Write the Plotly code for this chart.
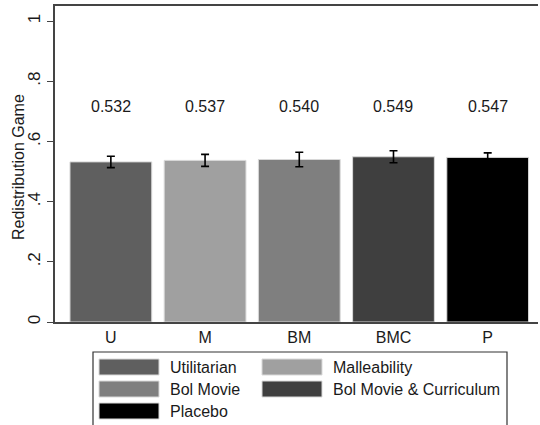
import plotly.graph_objects as go

categories = ["U", "M", "BM", "BMC", "P"]
values = [0.532, 0.537, 0.540, 0.549, 0.547]
ci_half = [0.019, 0.020, 0.024, 0.020, 0.015]
value_labels = ["0.532", "0.537", "0.540", "0.549", "0.547"]
legend_names = ["Utilitarian", "Malleability", "Bol Movie", "Bol Movie & Curriculum", "Placebo"]
colors = ["#5f5f5f", "#a0a0a0", "#7f7f7f", "#3f3f3f", "#000000"]
y_ticks = [0, 0.2, 0.4, 0.6, 0.8, 1.0]
y_tick_labels = ["0", ".2", ".4", ".6", ".8", "1"]
y_title = "Redistribution Game"
label_y = 0.717

W, H = 540, 425
ml, mr, mt, mb = 55, 2, 6, 103
pw, ph = W - ml - mr, H - mt - mb
FONT = "Liberation Sans, Arial"

fig = go.Figure()
fig.add_trace(go.Bar(
    x=list(range(len(categories))), y=values,
    marker=dict(color=colors, line=dict(color="#d9d9d9", width=1)),
    width=0.868,
    error_y=dict(type="data", array=ci_half, color="#000000", thickness=1.6, width=4),
    showlegend=False, hoverinfo="skip",
))

annotations = []
for i, lab in enumerate(value_labels):
    annotations.append(dict(x=i, y=label_y, xref="x", yref="y", text=lab, showarrow=False,
                            font=dict(size=16, color="#1a1a1a", family=FONT)))

def px_to_paper_x(px):
    return (px - ml) / pw

def px_to_paper_y(py):
    return (H - mb - py) / ph

# y-axis title
annotations.append(dict(xref="paper", yref="paper", x=px_to_paper_x(18), y=px_to_paper_y(167),
                        xanchor="center", yanchor="middle", text=y_title, textangle=-90,
                        showarrow=False, font=dict(size=16, color="#1a1a1a", family=FONT)))

shapes = []
shapes.append(dict(type="rect", xref="paper", yref="paper",
                   x0=px_to_paper_x(93), x1=px_to_paper_x(507),
                   y0=px_to_paper_y(352), y1=px_to_paper_y(426),
                   line=dict(color="#333333", width=1.2), fillcolor="rgba(0,0,0,0)"))
col_x = [99, 262]
row_y = [367, 389, 411]
for k, (name, c) in enumerate(zip(legend_names, colors)):
    r, ccol = divmod(k, 2)
    sx = col_x[ccol]
    cy = row_y[r]
    shapes.append(dict(type="rect", xref="paper", yref="paper",
                       x0=px_to_paper_x(sx), x1=px_to_paper_x(sx + 60),
                       y0=px_to_paper_y(cy + 8), y1=px_to_paper_y(cy - 8),
                       fillcolor=c, line=dict(color="#d9d9d9", width=1)))
    annotations.append(dict(xref="paper", yref="paper", x=px_to_paper_x(sx + 69), y=px_to_paper_y(cy),
                            xanchor="left", yanchor="middle", text=name, showarrow=False,
                            font=dict(size=16, color="#1a1a1a", family=FONT)))

fig.update_layout(
    width=W, height=H,
    margin=dict(l=ml, r=mr, t=mt, b=mb, pad=0, autoexpand=False),
    paper_bgcolor="white", plot_bgcolor="white",
    font=dict(family=FONT, size=16, color="#1a1a1a"),
    shapes=shapes, annotations=annotations,
)
fig.update_xaxes(
    range=[-0.593, 4.534], tickmode="array", tickvals=list(range(len(categories))),
    ticktext=categories, showline=True, linecolor="#444444", linewidth=1.5,
    mirror=True, ticks="", showgrid=False, zeroline=False, tickfont=dict(size=16),
    automargin=False,
)
fig.update_yaxes(
    range=[0, 1.05], tickmode="array", tickvals=y_ticks, ticktext=y_tick_labels,
    tickangle=-90, ticks="outside", ticklen=6, tickcolor="#444444",
    showline=True, linecolor="#444444", linewidth=1.5, showgrid=False, zeroline=False,
    tickfont=dict(size=17), automargin=False,
)

fig.write_html("out.html", config={"displayModeBar": False},
               post_script="document.body.style.margin='0';document.body.style.overflow='hidden';")
